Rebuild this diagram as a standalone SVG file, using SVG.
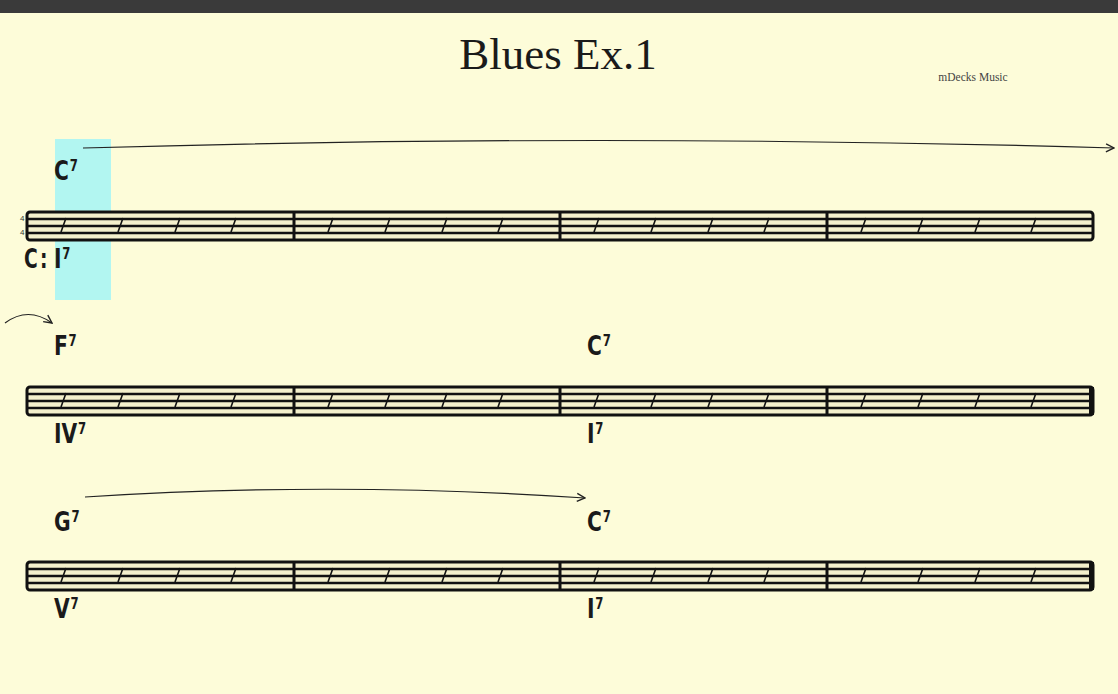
<svg xmlns="http://www.w3.org/2000/svg" width="1118" height="694" viewBox="0 0 1118 694">
<style>
.staff{fill:#f4f0cc;stroke:#111;stroke-width:3}
.ln{stroke:#111;stroke-width:2.5}
.bar{stroke:#111;stroke-width:3}
.sl{stroke:#111;stroke-width:1.6}
.ch{font-family:"DejaVu Sans",sans-serif;font-weight:bold;font-size:26px;fill:#1a1a1a}
.sup{font-size:15px}
.con{fill:none;stroke:#222;stroke-width:1.2}
</style>
<defs>
<marker id="ah" viewBox="0 0 10 10" refX="9" refY="5" markerWidth="10" markerHeight="10" markerUnits="userSpaceOnUse" orient="auto">
<path d="M1,1 L9,5 L1,9" fill="none" stroke="#222" stroke-width="1.4"/>
</marker>
<g id="slashes">
<line class="sl" x1="61" y1="20" x2="66" y2="6"/>
<line class="sl" x1="118" y1="20" x2="123" y2="6"/>
<line class="sl" x1="175" y1="20" x2="180" y2="6"/>
<line class="sl" x1="231" y1="20" x2="236" y2="6"/>
</g>
<g id="staffbody">
<rect class="staff" x="27" y="0" width="1066" height="28" rx="3"/>
<line class="ln" x1="27" y1="7" x2="1093" y2="7"/>
<line class="ln" x1="27" y1="14" x2="1093" y2="14"/>
<line class="ln" x1="27" y1="21" x2="1093" y2="21"/>
<line class="bar" x1="294" y1="0" x2="294" y2="28"/>
<line class="bar" x1="560" y1="0" x2="560" y2="28"/>
<line class="bar" x1="827" y1="0" x2="827" y2="28"/>
<use href="#slashes"/>
<use href="#slashes" x="267"/>
<use href="#slashes" x="533"/>
<use href="#slashes" x="800"/>
</g>
</defs>
<rect x="0" y="0" width="1118" height="694" fill="#fdfcd9"/>
<rect x="0" y="0" width="1118" height="13" fill="#3a3a3a"/>
<rect x="55" y="139" width="56" height="161" fill="#b2f6f1"/>
<g id="title">
<text x="558" y="69" text-anchor="middle" font-family="Liberation Serif,serif" font-size="45" fill="#1a1a1a">Blues Ex.1</text>
</g>
<g id="credit">
<text x="973" y="81" text-anchor="middle" font-family="Liberation Serif,serif" font-size="11.5" fill="#444">mDecks Music</text>
</g>
<g id="staff1">
<use href="#staffbody" y="212"/>
<text x="20" y="221" font-family="Liberation Sans,sans-serif" font-size="8" fill="#333">4</text>
<text x="20" y="235" font-family="Liberation Sans,sans-serif" font-size="8" fill="#333">4</text>
<text class="ch" transform="translate(24,268) scale(0.72,1)" font-size="21">C<tspan dx="3">:</tspan></text>
<text class="ch" transform="translate(54,180) scale(0.78,1)">C<tspan class="sup" dx="1" dy="-9">7</tspan></text>
<text class="ch" transform="translate(54,268) scale(0.78,1)">I<tspan class="sup" dx="1" dy="-9">7</tspan></text>
</g>
<g id="staff2">
<use href="#staffbody" y="387"/>
<rect x="1089" y="387" width="5" height="28" fill="#111"/>
<text class="ch" transform="translate(54,355) scale(0.78,1)">F<tspan class="sup" dx="1" dy="-9">7</tspan></text>
<text class="ch" transform="translate(587,355) scale(0.78,1)">C<tspan class="sup" dx="1" dy="-9">7</tspan></text>
<text class="ch" transform="translate(54,443) scale(0.78,1)">IV<tspan class="sup" dx="1" dy="-9">7</tspan></text>
<text class="ch" transform="translate(587,443) scale(0.78,1)">I<tspan class="sup" dx="1" dy="-9">7</tspan></text>
</g>
<g id="staff3">
<use href="#staffbody" y="562"/>
<rect x="1089" y="562" width="5" height="28" fill="#111"/>
<text class="ch" transform="translate(54,531) scale(0.78,1)">G<tspan class="sup" dx="1" dy="-9">7</tspan></text>
<text class="ch" transform="translate(587,531) scale(0.78,1)">C<tspan class="sup" dx="1" dy="-9">7</tspan></text>
<text class="ch" transform="translate(54,618) scale(0.78,1)">V<tspan class="sup" dx="1" dy="-9">7</tspan></text>
<text class="ch" transform="translate(587,618) scale(0.78,1)">I<tspan class="sup" dx="1" dy="-9">7</tspan></text>
</g>
<g id="connectors">
<path class="con" d="M83,148 Q600,133 1114,148" marker-end="url(#ah)"/>
<path class="con" d="M5,323 Q28,306 52,323" marker-end="url(#ah)"/>
<path class="con" d="M85,497 Q335,481 585,498" marker-end="url(#ah)"/>
</g>
</svg>
